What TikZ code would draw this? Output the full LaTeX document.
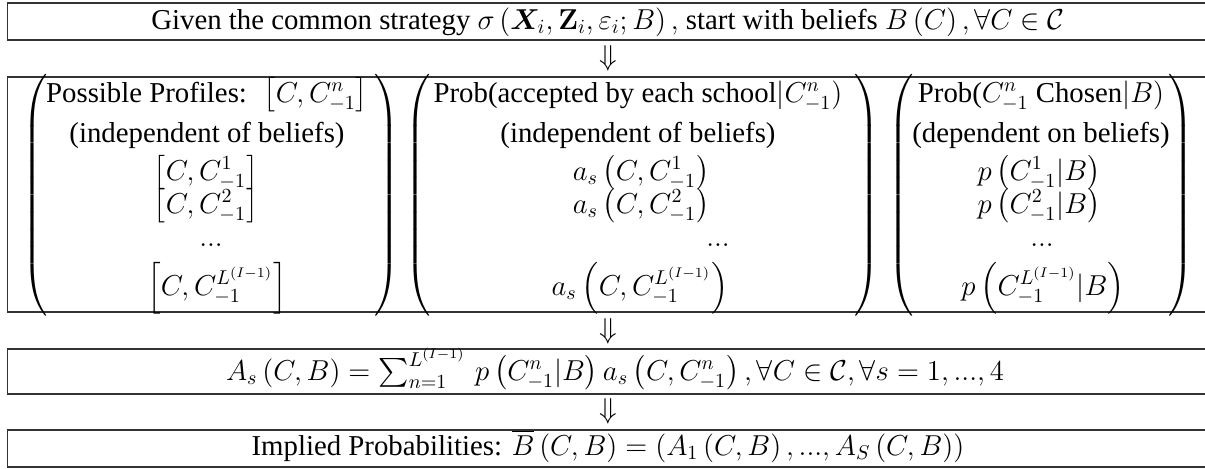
\documentclass[tikz,border=0pt]{standalone}
\usepackage[no-math]{fontspec}
\setmainfont{Liberation Serif}
\usepackage{amsmath,amssymb,bm}
\delimiterfactor=1000
\delimitershortfall=0pt
\newcommand{\tallparL}[1]{$\left(\vcenter{\hbox{\rule{0pt}{#1}}}\right.$}
\newcommand{\tallparR}[1]{$\left.\vcenter{\hbox{\rule{0pt}{#1}}}\right)$}
\begin{document}
\begin{tikzpicture}[x=0.5pt,y=-0.5pt,
  box/.style={draw=black!80, line width=0.6pt},
  txt/.style={anchor=base, inner sep=0pt, font=\fontsize{14.4}{18}\selectfont},
  paren/.style={anchor=center, inner sep=0pt, font=\fontsize{14.4}{18}\selectfont}]
\useasboundingbox (0,0) rectangle (1205,468);
% boxes
\draw[box] (7.5,3) rectangle (1215,40);
\draw[box] (7.5,77) rectangle (1215,312);
\draw[box] (7.5,349) rectangle (1215,394);
\draw[box] (7.5,430) rectangle (1215,467);
% row 1
\node[txt] (given) at (608,29) {Given the common strategy $\sigma\left(\bm{X}_i,\mathbf{Z}_i,\varepsilon_i;B\right),$ start with beliefs $B\left(C\right),\forall C\in\mathcal{C}$};
\node[txt] (d1) at (608,65) {$\Downarrow$};
% column 1
\node[paren] (l1) at (36,195) {\tallparL{115pt}};
\node[paren] (r1) at (386,195) {\tallparR{115pt}};
\node[txt] (a1) at (207,102) {Possible Profiles: \ $\left[C,C_{-1}^{n}\right]$};
\node[txt] (a2) at (207,142) {(independent of beliefs)};
\node[txt] (a3) at (206,180) {$\left[C,C_{-1}^{1}\right]$};
\node[txt] (a4) at (206,213) {$\left[C,C_{-1}^{2}\right]$};
\node[txt] (a5) at (211,246) {$...$};
\node[txt] (a6) at (217,295) {$\left[C,C_{-1}^{L^{(I-1)}}\right]$};
% column 2
\node[paren] (l2) at (419,195) {\tallparL{115pt}};
\node[paren] (r2) at (866,195) {\tallparR{115pt}};
\node[txt] (b1) at (638,102) {Prob(accepted by each school$|C_{-1}^{n})$};
\node[txt] (b2) at (638,142) {(independent of beliefs)};
\node[txt] (b3) at (641,180) {$a_s\left(C,C_{-1}^{1}\right)$};
\node[txt] (b4) at (641,213) {$a_s\left(C,C_{-1}^{2}\right)$};
\node[txt] (b5) at (718,246) {$...$};
\node[txt] (b6) at (640,295) {$a_s\left(C,C_{-1}^{L^{(I-1)}}\right)$};
% column 3
\node[paren] (l3) at (902,195) {\tallparL{115pt}};
\node[paren] (r3) at (1180,195) {\tallparR{115pt}};
\node[txt] (c1) at (1041,102) {Prob($C_{-1}^{n}$ Chosen$|B)$};
\node[txt] (c2) at (1041,142) {(dependent on beliefs)};
\node[txt] (c3) at (1039,180) {$p\left(C_{-1}^{1}|B\right)$};
\node[txt] (c4) at (1039,213) {$p\left(C_{-1}^{2}|B\right)$};
\node[txt] (c5) at (1042,246) {$...$};
\node[txt] (c6) at (1043,295) {$p\left(C_{-1}^{L^{(I-1)}}|B\right)$};
% row 3
\node[txt] (d2) at (608,338) {$\Downarrow$};
\node[txt] (sum) at (615,380) {$A_s\left(C,B\right)=\sum_{n=1}^{L^{(I-1)}}\,p\left(C_{-1}^{n}|B\right)a_s\left(C,C_{-1}^{n}\right),\forall C\in\mathcal{C},\forall s=1,...,4$};
\node[txt] (d3) at (608,418) {$\Downarrow$};
\node[txt] (impl) at (608,455) {Implied Probabilities: $\overline{B}\left(C,B\right)=(A_1\left(C,B\right),...,A_S\left(C,B\right))$};
\end{tikzpicture}
\end{document}
